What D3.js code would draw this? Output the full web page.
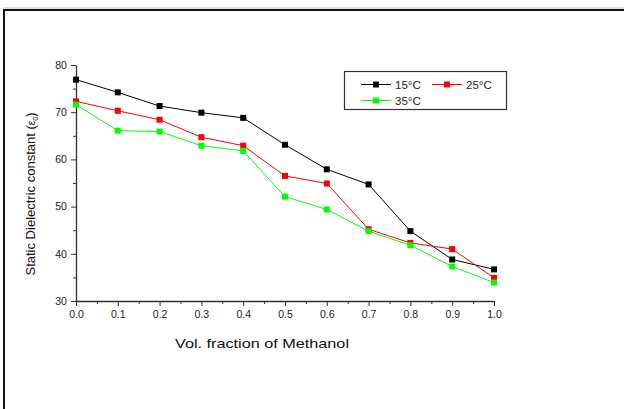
<!DOCTYPE html>
<html><head><meta charset="utf-8">
<script src="https://cdn.jsdelivr.net/npm/d3@7"></script>
<style>body{margin:0;background:#fff;}svg{display:block;font-family:"Liberation Sans",Arial,sans-serif;}</style>
</head><body><svg id="c" width="624" height="409"></svg>
<script>
const xValues = [0.0,0.1,0.2,0.3,0.4,0.5,0.6,0.7,0.8,0.9,1.0];
const s15 = [76.9,74.2,71.3,69.9,68.8,63.1,57.9,54.7,44.8,38.8,36.7];
const s25 = [72.3,70.3,68.4,64.7,62.9,56.5,54.9,45.2,42.3,41.0,34.9];
const s35 = [71.6,66.1,65.9,62.9,61.8,52.1,49.4,44.8,41.8,37.3,33.9];
const seriesNames = ["15°C","25°C","35°C"];
const seriesColors = ["#000000","#ff0000","#00ff00"];
const xTicks = [0,0.1,0.2,0.3,0.4,0.5,0.6,0.7,0.8,0.9,1.0];
const yTicks = [30,40,50,60,70,80];

const svg = d3.select("#c");
// outer frame
svg.append("line").attr("x1",3).attr("x2",624).attr("y1",8).attr("y2",8).attr("stroke","#bbb").attr("stroke-width",1);
svg.append("rect").attr("x",4).attr("y",10).attr("width",640).attr("height",420)
  .attr("fill","none").attr("stroke","#111").attr("stroke-width",2);

const x = d3.scaleLinear().domain([0,1]).range([76,494]);
const y = d3.scaleLinear().domain([30,80]).range([301,65]);

// minor ticks
const gx = svg.append("g").attr("transform","translate(0,301)");
gx.call(d3.axisBottom(x).tickValues(d3.range(0.05,1,0.1)).tickSize(3).tickFormat(""));
gx.call(g=>g.select(".domain").remove());
const gy = svg.append("g").attr("transform","translate(76,0)");
gy.call(d3.axisLeft(y).tickValues(d3.range(35,80,10)).tickSize(3).tickFormat(""));
gy.call(g=>g.select(".domain").remove());

const ax = svg.append("g").attr("transform","translate(0,301)")
  .call(d3.axisBottom(x).tickValues(xTicks).tickSize(5).tickSizeOuter(0).tickFormat(d3.format(".1f")));
const ay = svg.append("g").attr("transform","translate(76,0)")
  .call(d3.axisLeft(y).tickValues(yTicks).tickSize(5).tickSizeOuter(0));
[ax,ay,gx,gy].forEach(g=>{
  g.selectAll("line").attr("stroke","#333").attr("stroke-width",1);
  g.selectAll(".domain").attr("stroke","#333").attr("stroke-width",1.3);
  g.selectAll("text").attr("font-size",10.5).attr("fill","#222").attr("font-family","Liberation Sans, Arial, sans-serif");
});
ax.selectAll("text").attr("dy","0.9em");
ay.selectAll("text").attr("dx","-0.1em");

// titles
svg.append("text").attr("x",262).attr("y",348).attr("text-anchor","middle")
  .attr("font-size",13).attr("fill","#111")
  .attr("textLength",174).attr("lengthAdjust","spacingAndGlyphs")
  .text("Vol. fraction of Methanol");
const yt = svg.append("text").attr("transform","translate(35,194) rotate(-90)")
  .attr("text-anchor","middle").attr("font-size",13).attr("fill","#111");
yt.append("tspan").text("Static Dielectric constant (");
yt.append("tspan").attr("font-size",10).text("ε");
yt.append("tspan").attr("font-size",7).attr("dy",3).text("0");
yt.append("tspan").attr("dy",-3).text(")");

// series
const allSeries = [s15,s25,s35];
const line = d3.line().x((d,i)=>x(xValues[i])).y(d=>y(d));
allSeries.forEach((s,k)=>{
  svg.append("path").datum(s).attr("d",line).attr("fill","none")
    .attr("stroke",seriesColors[k]).attr("stroke-width",1);
});
allSeries.forEach((s,k)=>{
  svg.append("g").selectAll("rect").data(s).join("rect")
    .attr("x",(d,i)=>x(xValues[i])-3).attr("y",d=>y(d)-3)
    .attr("width",6).attr("height",6).attr("fill",seriesColors[k]);
});

// legend
const lg = svg.append("g");
lg.append("rect").attr("x",344.5).attr("y",71.5).attr("width",162).attr("height",38)
  .attr("fill","#fff").attr("stroke","#333").attr("stroke-width",1.2);
const legPos = [[361,84.5],[432,84.5],[361,100.5]];
seriesNames.forEach((n,k)=>{
  const [lx,ly] = legPos[k];
  lg.append("line").attr("x1",lx).attr("x2",lx+30).attr("y1",ly).attr("y2",ly)
    .attr("stroke",seriesColors[k]).attr("stroke-width",1);
  lg.append("rect").attr("x",lx+15-3).attr("y",ly-3).attr("width",6).attr("height",6).attr("fill",seriesColors[k]);
  lg.append("text").attr("x",lx+34).attr("y",ly+4).attr("font-size",11.5).attr("fill","#222").text(n);
});
</script></body></html>
